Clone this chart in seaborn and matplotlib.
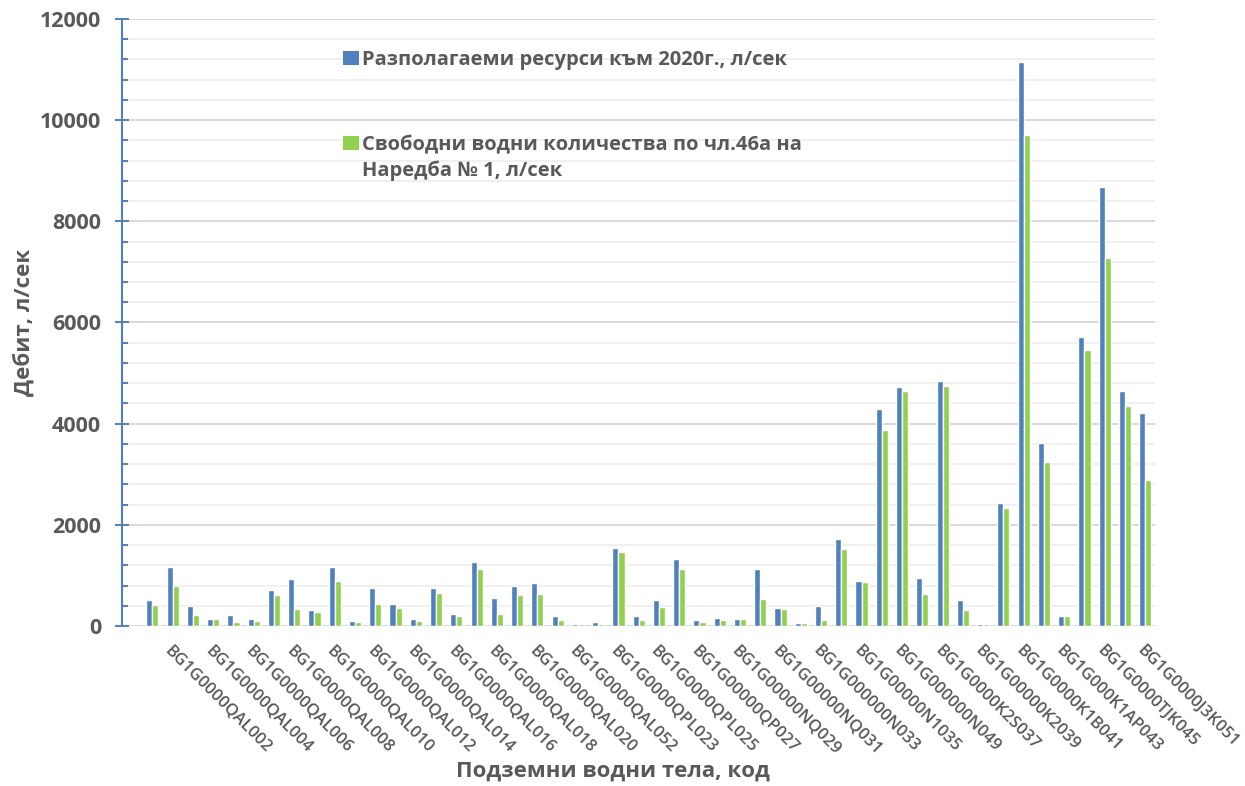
import numpy as np
import pandas as pd
import seaborn as sns
import matplotlib.pyplot as plt
from matplotlib.ticker import MultipleLocator
from matplotlib.patches import Patch

# shown category labels (Excel shows every second water body code)
tick_labels = ["BG1G0000QAL002", "BG1G0000QAL004", "BG1G0000QAL006", "BG1G0000QAL008",
    "BG1G0000QAL010", "BG1G0000QAL012", "BG1G0000QAL014", "BG1G0000QAL016",
    "BG1G0000QAL018", "BG1G0000QAL020", "BG1G0000QAL052", "BG1G0000QPL023",
    "BG1G0000QPL025", "BG1G00000QP027", "BG1G00000NQ029", "BG1G00000NQ031",
    "BG1G000000N033", "BG1G00000N1035", "BG1G000000N049", "BG1G0000K2S037",
    "BG1G00000K2039", "BG1G0000K1B041", "BG1G000K1AP043", "BG1G0000TJK045",
    "BG1G0000J3K051"]

series_names = ["Разполагаеми ресурси към 2020г., л/сек",
    "Свободни водни количества по чл.46а на Наредба № 1, л/сек"]

# values per water body, slots 1..50 (slot 0 is an empty category)
resources = [521, 1168, 396, 132, 211, 139, 706, 924, 310, 1162,
    106, 746, 442, 132, 746, 231, 1261, 554, 799, 858,
    191, 46, 79, 1544, 191, 521, 1333, 119, 152, 139,
    1135, 350, 53, 389, 1723, 891, 4290, 4726, 944, 4851,
    515, 46, 2435, 11145, 3617, 191, 5711, 8673, 4646, 4217]
free_water = [422, 785, 218, 132, 86, 92, 620, 330, 271, 891,
    73, 429, 356, 99, 647, 191, 1122, 244, 607, 640,
    119, 40, 40, 1459, 112, 383, 1135, 86, 119, 132,
    528, 330, 53, 112, 1518, 865, 3874, 4646, 627, 4745,
    323, 40, 2336, 9705, 3234, 191, 5453, 7281, 4350, 2884]

colors = ["#4f81bd", "#92d050"]
grey = "#595959"

n_slots = len(resources) + 1
df = pd.DataFrame({
    "pos": list(range(1, n_slots)) * 2,
    "value": resources + free_water,
    "series": [series_names[0]] * len(resources) + [series_names[1]] * len(free_water),
})

sns.set_style("white")
plt.rcParams["font.family"] = ["Open Sans", "DejaVu Sans"]

fig, ax = plt.subplots(figsize=(12.45, 7.86), dpi=100)
fig.subplots_adjust(left=0.098, right=0.928, bottom=0.2036, top=0.9758)

sns.barplot(data=df, x="pos", y="value", hue="series", order=list(range(n_slots)),
            hue_order=series_names, palette=colors, saturation=1, width=0.6, gap=0,
            errorbar=None, legend=False, ax=ax, zorder=3)

ax.set_ylim(0, 12000)
ax.yaxis.set_major_locator(MultipleLocator(2000))
ax.yaxis.set_minor_locator(MultipleLocator(400))
ax.set_axisbelow(True)
ax.grid(which="major", axis="y", color="#d9d9d9", lw=1.4)
ax.grid(which="minor", axis="y", color="#f0f0f0", lw=1.4)
ax.grid(which="major", axis="x", visible=False)

for s in ["top", "right", "bottom"]:
    ax.spines[s].set_visible(False)
ax.spines["left"].set_color("#4f81bd")
ax.spines["left"].set_linewidth(1.5)

ax.tick_params(axis="y", which="both", left=True)
ax.tick_params(axis="y", which="major", direction="inout", length=10, width=1.4,
               color="#4f81bd", labelsize=15.5, labelcolor=grey, pad=10)
ax.tick_params(axis="y", which="minor", direction="in", length=4.5, width=1.4,
               color="#4f81bd")
for t in ax.get_yticklabels():
    t.set_fontweight("bold")

ax.set_xticks(range(2, n_slots, 2))
ax.set_xticklabels(tick_labels, rotation=-45, ha="left", va="top",
                   rotation_mode="anchor", fontsize=12, fontweight="semibold", color=grey)
ax.tick_params(axis="x", length=0, pad=12)

ax.set_xlabel("Подземни водни тела, код", fontsize=16, fontweight="bold", color=grey)
ax.set_ylabel("Дебит, л/сек", fontsize=16, fontweight="bold", color=grey)
ax.yaxis.set_label_coords(-0.085, 0.5)
ax.xaxis.set_label_coords(0.475, -0.222)

prop = dict(family=["Open Sans", "DejaVu Sans"], weight="bold", size=14.5)
handle_kw = dict(frameon=False, borderpad=0, borderaxespad=0, handlelength=0.8,
                 handleheight=0.7, handletextpad=0.15, prop=prop, loc="upper left")

leg1 = ax.legend([Patch(fc=colors[0], ec="none")], [series_names[0]],
                 bbox_to_anchor=(0.2135, 0.949), **handle_kw)
for t in leg1.get_texts():
    t.set_color(grey)
ax.add_artist(leg1)

line1 = "Свободни водни количества по чл.46а на"
line2 = "Наредба № 1, л/сек"
leg2 = ax.legend([Patch(fc=colors[1], ec="none"), Patch(fc="none", ec="none")],
                 [line1, line2], bbox_to_anchor=(0.2135, 0.809), labelspacing=0.28,
                 **handle_kw)
for t in leg2.get_texts():
    t.set_color(grey)

plt.savefig("out.png", dpi=100)
